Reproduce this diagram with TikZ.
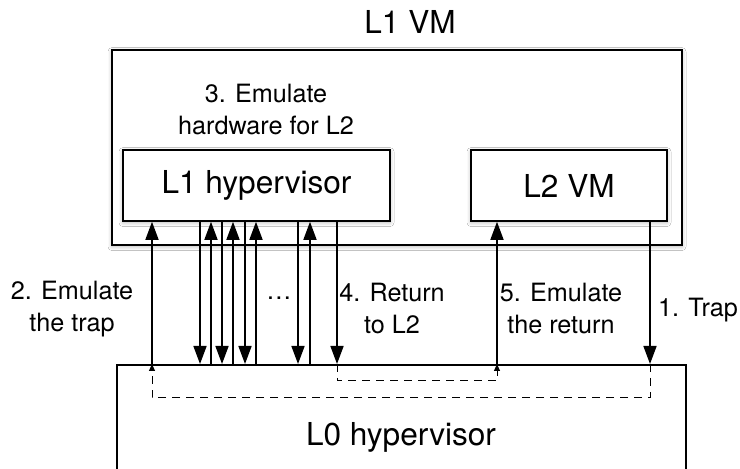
\documentclass[tikz,border=0pt]{standalone}
\usepackage{fontspec}
\setmainfont{TeX Gyre Heros}
\usetikzlibrary{arrows.meta,shadows.blur}

\begin{document}
\begin{tikzpicture}[x=0.5pt,y=-0.5pt,
  box/.style={draw, line width=0.8pt, fill=white, inner sep=0pt,
    blur shadow={shadow xshift=0pt, shadow yshift=-0.8pt, shadow blur radius=2pt, shadow opacity=30}},
  plainbox/.style={draw, line width=0.8pt, fill=white, inner sep=0pt},
  bigtext/.style={font=\fontsize{15.8pt}{19pt}\selectfont, inner sep=0pt},
  smalltext/.style={font=\fontsize{12.6pt}{16pt}\selectfont, align=center, inner sep=0pt},
  arr/.style={line width=0.8pt, -{Triangle[length=9pt,width=6.5pt]}},
  ret/.style={line width=0.5pt, dash pattern=on 4pt off 3pt, -{Triangle[length=3.5pt,width=3pt]}}
]
\useasboundingbox (0,0) rectangle (740,469);
\clip (0,0) rectangle (740,469);
\fill[white] (0,0) rectangle (740,469);

% guest machine and the two layers it runs
\node[bigtext] (l1vmlabel) at (410,22) {L1 VM};
\node[box, minimum width=285pt, minimum height=97.5pt] (l1vm) at (397,147.5) {};
\node[box, minimum width=133.5pt, minimum height=35.5pt, bigtext] (l1hyp) at (256.5,185.5) {L1 hypervisor};
\node[box, minimum width=98pt, minimum height=35.5pt, bigtext] (l2vm) at (569,185.5) {L2 VM};
\node[smalltext] (emuhw) at (266,110) {3. Emulate\\hardware for L2};

% host hypervisor, cut off at the bottom edge
\node[plainbox, minimum width=284.5pt, minimum height=80pt, anchor=north west] (l0) at (116,364) {};
\node[bigtext] (l0label) at (401,437) {L0 hypervisor};

% x positions of the vertical transitions
\coordinate (xemutrap) at (152,0);
\coordinate (xret) at (337,0);
\coordinate (xemuret) at (497,0);
\coordinate (xtrap) at (650,0);

% 1. trap from L2 into L0
\draw[arr] (xtrap |- l2vm.south) -- (xtrap |- l0.north);
% 2. L0 reflects the trap to L1
\draw[arr] (xemutrap |- l0.north) -- (xemutrap |- l1hyp.south);
% 3. repeated exits of L1 while emulating hardware
\foreach \xd/\xu in {200/211, 222/233, 245/256, 298/310} {
  \draw[arr] (\xd,0 |- l1hyp.south) -- (\xd,0 |- l0.north);
  \draw[arr] (\xu,0 |- l0.north) -- (\xu,0 |- l1hyp.south);
}
% 4. L1 returns to L2, caught by L0
\draw[arr] (xret |- l1hyp.south) -- (xret |- l0.north);
% 5. L0 resumes L2
\draw[arr] (xemuret |- l0.north) -- (xemuret |- l2vm.south);

% internal paths through L0
\draw[ret] (xtrap |- l0.north) -- (650,398) -- (152,398) -- (xemutrap |- l0.north);
\draw[ret] (xret |- l0.north) -- (337,381) -- (497,381) -- (xemuret |- l0.north);

% transition labels
\node[smalltext] (lbltwo) at (72,309) {2. Emulate\\the trap};
\node[smalltext] (lbldots) at (279,298) {\ldots};
\node[smalltext] (lblfour) at (392,309) {4. Return\\to L2};
\node[smalltext] (lblfive) at (561,309) {5. Emulate\\the return};
\node[smalltext] (lblone) at (698,310) {1. Trap};
\end{tikzpicture}
\end{document}
